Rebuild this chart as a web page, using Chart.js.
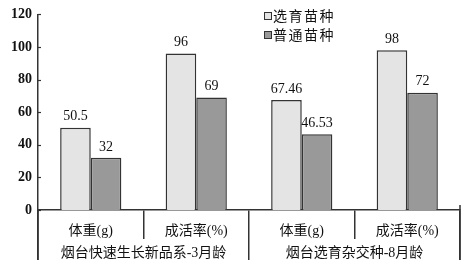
<!DOCTYPE html>
<html>
<head>
<meta charset="utf-8">
<script src="https://cdn.jsdelivr.net/npm/chart.js@4/dist/chart.umd.min.js"></script>
<style>
  html, body { margin: 0; padding: 0; background: #fff; }
  #wrap { width: 470px; height: 270px; }
</style>
</head>
<body>
<div id="wrap"><canvas id="chart"></canvas></div>
<script>
// data
const categories = ["体重(g)", "成活率(%)", "体重(g)", "成活率(%)"];
const groups = ["烟台快速生长新品系-3月龄", "烟台选育杂交种-8月龄"];
const seriesNames = ["选育苗种", "普通苗种"];
const selected = [50.5, 96, 67.46, 98];
const ordinary = [32, 69, 46.53, 72];
const valueText = [
  ["50.5", "96", "67.46", "98"],
  ["32", "69", "46.53", "72"]
];

const LINE = "#333";
const SERIF = "'Liberation Serif', 'Noto Sans CJK SC', serif";

// value labels on top of bars + inner y ticks + edge lines + legend
const extras = {
  id: "extras",
  afterDatasetsDraw(chart) {
    const ctx = chart.ctx;
    const area = chart.chartArea;
    ctx.save();
    ctx.fillStyle = "#111";
    ctx.font = "14px " + SERIF;
    ctx.textAlign = "center";
    ctx.textBaseline = "bottom";
    chart.data.datasets.forEach((ds, i) => {
      chart.getDatasetMeta(i).data.forEach((bar, j) => {
        ctx.fillText(valueText[i][j], bar.x, bar.y - 4);
      });
    });

    // small ticks inside the y axis
    const y = chart.scales.y;
    ctx.strokeStyle = LINE;
    ctx.lineWidth = 1.2;
    y.ticks.forEach((t) => {
      const py = Math.round(y.getPixelForValue(t.value)) + 0.5;
      ctx.beginPath();
      ctx.moveTo(area.left, py);
      ctx.lineTo(area.left + 3, py);
      ctx.stroke();
    });

    // left and right edge lines under the axis
    ctx.lineWidth = 1.5;
    ctx.beginPath();
    ctx.moveTo(area.left, area.bottom);
    ctx.lineTo(area.left, 260);
    ctx.moveTo(area.right, area.bottom - 5);
    ctx.lineTo(area.right, 260);
    ctx.stroke();

    // legend
    ctx.font = "14px 'Noto Sans CJK SC', sans-serif";
    ctx.textAlign = "left";
    ctx.textBaseline = "middle";
    chart.data.datasets.forEach((ds, i) => {
      const lx = 264, ly = 16 + i * 19;
      ctx.fillStyle = ds.backgroundColor;
      ctx.fillRect(lx, ly - 4, 8, 8);
      ctx.strokeStyle = LINE;
      ctx.lineWidth = 1;
      ctx.strokeRect(lx + 0.5, ly - 3.5, 7, 7);
      ctx.fillStyle = "#111";
      ctx.letterSpacing = "1.5px";
      ctx.fillText(ds.label, lx + 9, ly);
    });
    ctx.restore();
  }
};

new Chart(document.getElementById("chart"), {
  type: "bar",
  data: {
    labels: categories,
    datasets: [
      {
        label: seriesNames[0],
        data: selected,
        backgroundColor: "#e4e4e4",
        borderColor: LINE,
        borderWidth: 1.5
      },
      {
        label: seriesNames[1],
        data: ordinary,
        backgroundColor: "#999999",
        borderColor: LINE,
        borderWidth: 1.5
      }
    ]
  },
  options: {
    responsive: true,
    maintainAspectRatio: false,
    animation: false,
    datasets: { bar: { categoryPercentage: 0.58, barPercentage: 1.0 } },
    layout: { padding: { top: 11, right: 10, left: 0, bottom: 0 } },
    plugins: {
      legend: { display: false },
      tooltip: { enabled: false }
    },
    scales: {
      y: {
        min: 0,
        max: 120,
        ticks: {
          stepSize: 20,
          padding: 6,
          color: "#111",
          font: { family: SERIF, size: 14, weight: "bold" }
        },
        grid: { display: false, drawTicks: false },
        border: { display: true, color: LINE, width: 1.5 },
        afterFit(scale) { scale.width = 38; }
      },
      x: {
        offset: true,
        ticks: {
          padding: -16,
          color: "#111",
          font: { family: SERIF, size: 14 }
        },
        grid: {
          offset: true,
          drawOnChartArea: false,
          tickLength: 29,
          color: LINE,
          lineWidth: 1.5
        },
        border: { display: true, color: LINE, width: 1.5 },
        afterFit(scale) { scale.height = 29; }
      },
      x2: {
        type: "category",
        position: "bottom",
        labels: groups,
        offset: true,
        ticks: {
          padding: -15,
          color: "#111",
          font: { family: SERIF, size: 14 }
        },
        grid: {
          offset: true,
          drawOnChartArea: false,
          tickLength: 21,
          color: LINE,
          lineWidth: 1.5
        },
        border: { display: false },
        afterFit(scale) { scale.height = 31; }
      }
    }
  },
  plugins: [extras]
});
</script>
</body>
</html>
